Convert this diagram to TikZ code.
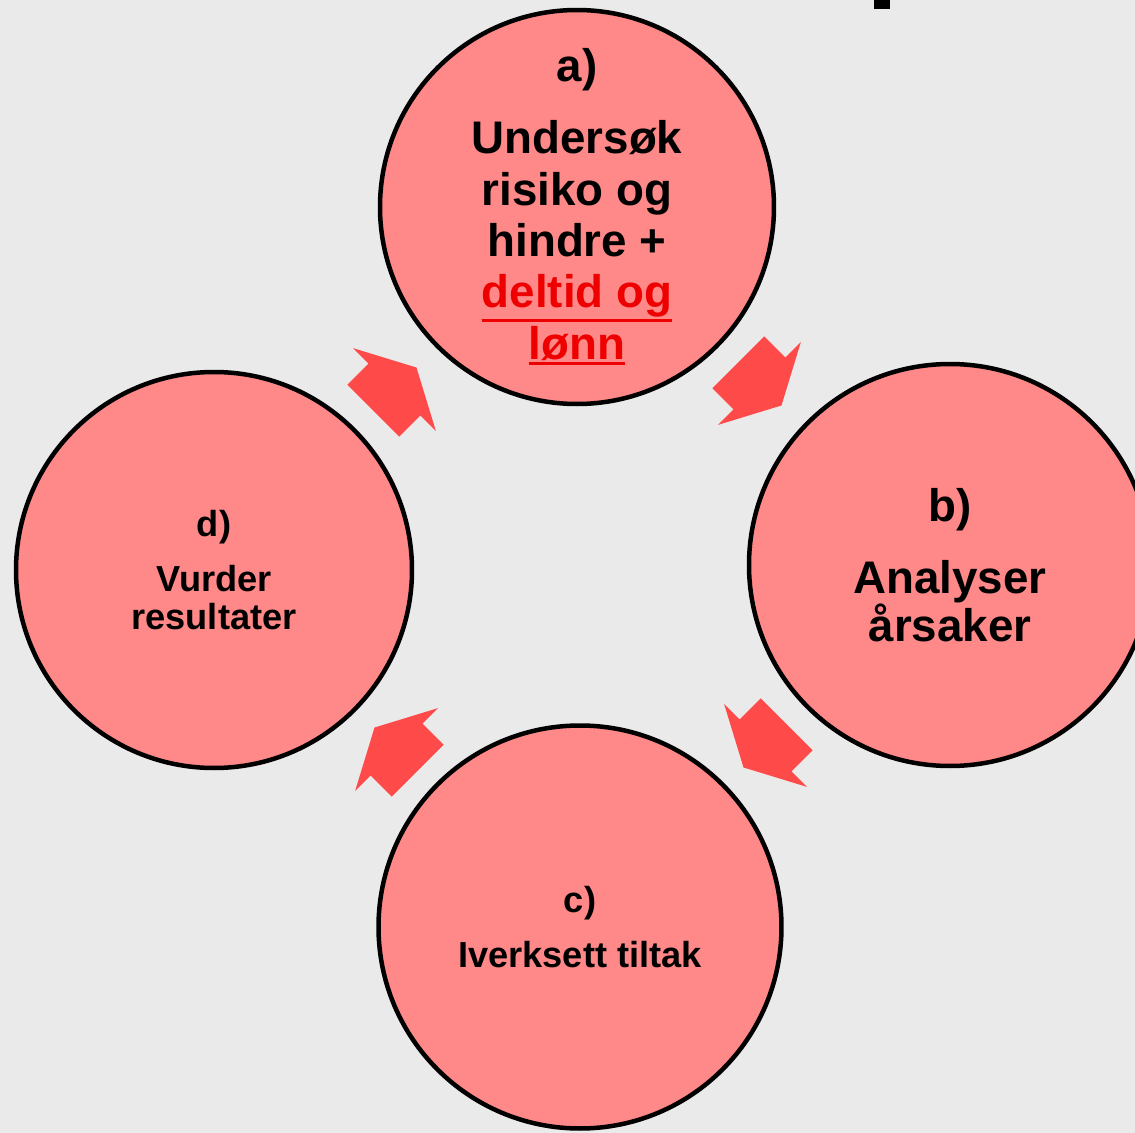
\documentclass[tikz,border=0pt]{standalone}
\usepackage{fontspec}
\setmainfont{Liberation Sans}
\usetikzlibrary{shapes.arrows}
\definecolor{stepfill}{HTML}{FF8888}
\definecolor{arrowred}{HTML}{FF4A4A}
\definecolor{linkred}{HTML}{EE0000}
\definecolor{backgr}{HTML}{EAEAEA}
\newcommand{\redlink}[1]{\textcolor{linkred}{\setbox0=\hbox{#1}\rlap{\vrule width\wd0 height -\dimexpr\dp0+0.5pt\relax depth \dimexpr\dp0+1.35pt\relax}\box0}}

\begin{document}
\begin{tikzpicture}[x=0.1mm,y=-0.1mm,line width=0.45mm,
	phase/.style={circle,draw=black,fill=stepfill,align=center,inner sep=0pt},
	turn/.style={single arrow,fill=arrowred,draw=none,inner xsep=0pt,inner ysep=3.45mm,text height=0pt,text depth=0pt,minimum height=6.1mm,single arrow head extend=2.2mm,single arrow tip angle=124}]
	\useasboundingbox (0,0) rectangle (1135,1133);
	\fill[backgr] (0,0) rectangle (1135,1133);
	\fill (874,0) rectangle (890,9);
	\node (a) at (577,207) [phase,minimum size=39.4mm,font=\bfseries\fontsize{13}{14.6}\selectfont] {a)\\[5.9pt]Undersøk\\risiko og\\hindre +\\\redlink{deltid og}\\\redlink{lønn}};
	\node (b) at (950,565) [phase,minimum size=40.2mm,font=\bfseries\fontsize{13}{13.7}\selectfont] {b)\\[6.8pt]Analyser\\årsaker};
	\node (c) at (580,927) [phase,minimum size=40.3mm,font=\bfseries\fontsize{10.3}{11.5}\selectfont] {c)\\[4.4pt]Iverksett tiltak};
	\node (d) at (214,570) [phase,minimum size=39.6mm,font=\bfseries\fontsize{10.3}{10.9}\selectfont] {d)\\[4.8pt]Vurder\\resultater};
	\node (ab) at (753,377) [turn,rotate=-45] {};
	\node (bc) at (772,739) [turn,rotate=-135] {};
	\node (cd) at (403,756) [turn,rotate=135] {};
	\node (da) at (388,396) [turn,rotate=45] {};
\end{tikzpicture}
\end{document}
